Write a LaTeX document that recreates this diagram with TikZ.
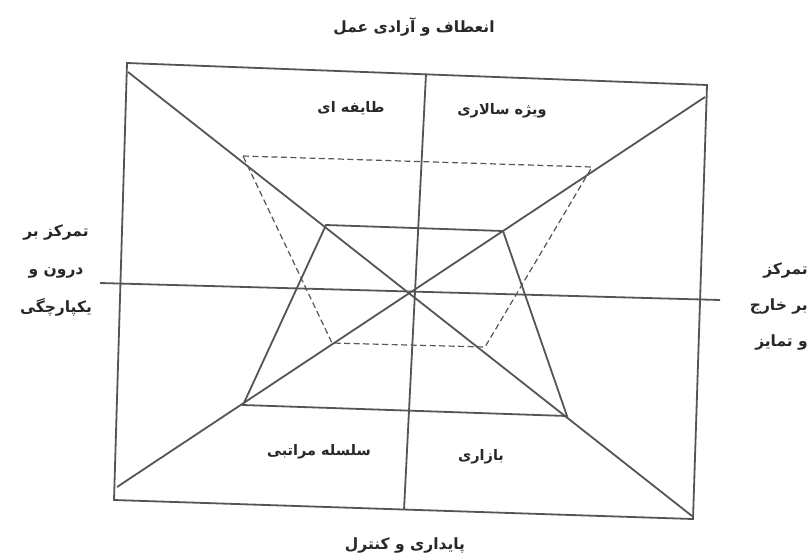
\documentclass[tikz,border=0pt]{standalone}
\usepackage{fontspec}
\newfontfamily\arabicfont[Script=Arabic]{DejaVu Sans}
\TeXXeTstate=1
\newcommand{\fa}[1]{\beginR #1\endR}
\definecolor{linegray}{RGB}{85,85,85}
\definecolor{txtgray}{RGB}{40,40,40}
\begin{document}
\begin{tikzpicture}[x=1pt,y=-1pt,
  edge/.style={draw=linegray,line width=1.8pt,line join=miter},
  dashedge/.style={draw=linegray,line width=1.2pt,dash pattern=on 6pt off 3.5pt},
  lbl/.style={text=txtgray,font=\arabicfont\bfseries\fontsize{14.5}{22}\selectfont,inner sep=0pt,align=center},
  side/.style={lbl,font=\arabicfont\bfseries\fontsize{15.5}{38}\selectfont}]
\useasboundingbox[fill=white] (0,0) rectangle (810,558);
% frame
\coordinate (BTL) at (127,63);
\coordinate (BTR) at (707,85);
\coordinate (BBR) at (693,519);
\coordinate (BBL) at (114,500);
\draw[edge] (BTL) -- (BTR) -- (BBR) -- (BBL) -- cycle;
% axes
\coordinate (VA) at (426,74);
\coordinate (VB) at (404,510);
\coordinate (HA) at (100,283);
\coordinate (HB) at (720,300);
\draw[edge] (VA) -- (VB);
\draw[edge] (HA) -- (HB);
% diagonals
\coordinate (D1a) at (128,72);
\coordinate (D1b) at (692,516);
\coordinate (D2a) at (705,97);
\coordinate (D2b) at (117,487);
\draw[edge] (D1a) -- (D1b);
\draw[edge] (D2a) -- (D2b);
% solid trapezoid
\coordinate (S1) at (326,225);
\coordinate (S2) at (503,231);
\coordinate (S3) at (567,416);
\coordinate (S4) at (243,405);
\draw[edge] (S1) -- (S2) -- (S3) -- (S4) -- cycle;
% dashed trapezoid
\coordinate (Q1) at (243,156);
\coordinate (Q2) at (592,167);
\coordinate (Q3) at (485,347);
\coordinate (Q4) at (332,343);
\draw[dashedge] (Q1) -- (Q2) -- (Q3) -- (Q4) -- cycle;
% labels
\node[lbl,font=\arabicfont\bfseries\fontsize{15.5}{22}\selectfont] (top) at (414,27) {\fa{انعطاف و آزادی عمل}};
\node[lbl,font=\arabicfont\bfseries\fontsize{15.5}{22}\selectfont] (bottom) at (405,545) {\fa{پایداری و کنترل}};
\node[side] (left) at (56,270) {\fa{تمرکز بر}\\\fa{درون و}\\\fa{یکپارچگی}};
\node[side,align=right,anchor=east,font=\arabicfont\bfseries\fontsize{15.5}{36}\selectfont] (right) at (808,306) {\fa{تمرکز}\\\fa{بر خارج}\\\fa{و تمایز}};
\node[lbl] (clan) at (351,108) {\fa{طایفه ای}};
\node[lbl] (adhoc) at (502,111) {\fa{ویژه سالاری}};
\node[lbl] (hier) at (319,452) {\fa{سلسله مراتبی}};
\node[lbl] (market) at (481,457) {\fa{بازاری}};
\end{tikzpicture}
\end{document}
